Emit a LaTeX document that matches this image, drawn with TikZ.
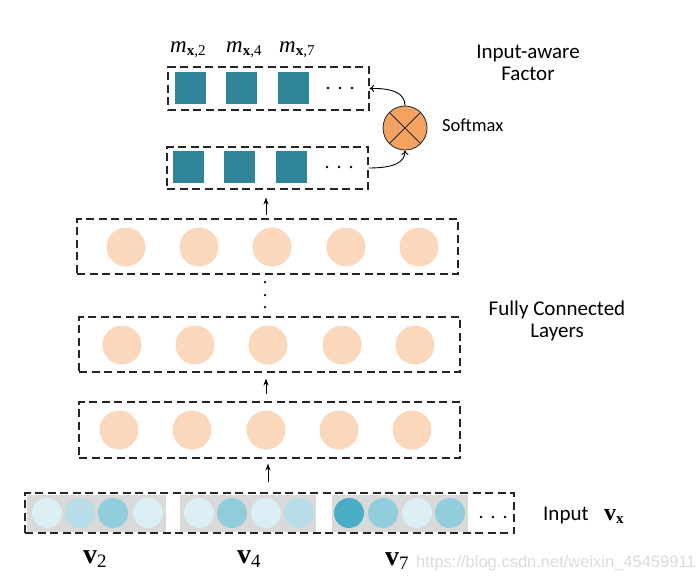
\documentclass[tikz,border=0pt]{standalone}
\usepackage{fontspec}
\setmainfont{Liberation Serif}
\newfontfamily\calfont{Carlito}
\newfontfamily\wmfont{Liberation Sans}
\usetikzlibrary{arrows.meta}
\definecolor{tealsq}{HTML}{2F8498}
\definecolor{peach}{HTML}{FBD8BC}
\definecolor{softor}{HTML}{F4A262}
\definecolor{graybg}{HTML}{D9D9D9}
\definecolor{bvl}{HTML}{DAEEF3}
\definecolor{bl}{HTML}{B7DDE8}
\definecolor{bm}{HTML}{92CDDC}
\definecolor{bd}{HTML}{4BACC6}
\begin{document}
\begin{tikzpicture}[x=1pt,y=-1pt,
  dbox/.style={draw=black!85, line width=1.1pt, dash pattern=on 8pt off 4.5pt, inner sep=0pt},
  sq/.style={fill=tealsq, minimum width=31pt, minimum height=32pt, inner sep=0pt},
  fc/.style={circle, fill=peach, minimum size=39pt, inner sep=0pt},
  inc/.style={circle, minimum size=30pt, inner sep=0pt},
  grp/.style={fill=graybg, minimum height=37pt, inner sep=0pt},
  dotn/.style={circle, fill=black, minimum size=2.8pt, inner sep=0pt},
  up/.style={-{Stealth[length=7pt,width=5pt]}, line width=1pt},
  curv/.style={-{To[length=4.5pt,width=7pt]}, line width=0.9pt},
  lbl/.style={font=\calfont\fontsize{21}{22}\selectfont, align=center, inner sep=0pt},
  mlbl/.style={anchor=base west, inner sep=0pt, font=\fontsize{23}{23}\selectfont},
  vlbl/.style={anchor=base west, inner sep=0pt, font=\fontsize{28}{28}\selectfont}
  ]
\useasboundingbox (0,0) rectangle (696,582);

% ---- top boxes ----
\node[dbox, minimum width=201pt, minimum height=43pt] (boxA) at (268.5,88.5) {};
\node[sq] (a1) at (190.5,88) {};
\node[sq] (a2) at (241.5,88) {};
\node[sq] (a3) at (293.5,88) {};
\node[dotn] (ad1) at (328,88) {};
\node[dotn] (ad2) at (340,88) {};
\node[dotn] (ad3) at (352,88) {};

\node[dbox, minimum width=201pt, minimum height=42pt] (boxB) at (267.5,168) {};
\node[sq] (b1) at (188.5,167) {};
\node[sq] (b2) at (239.5,167) {};
\node[sq] (b3) at (291.5,167) {};
\node[dotn] (bd1) at (327,167) {};
\node[dotn] (bd2) at (339,167) {};
\node[dotn] (bd3) at (351,167) {};

% m labels
\node[mlbl] (m2) at (170,52) {\itshape m\raisebox{-0.3ex}{\upshape\fontsize{15}{15}\selectfont\textbf{x},2}};
\node[mlbl] (m4) at (226,52) {\itshape m\raisebox{-0.3ex}{\upshape\fontsize{15}{15}\selectfont\textbf{x},4}};
\node[mlbl] (m7) at (279,52) {\itshape m\raisebox{-0.3ex}{\upshape\fontsize{15}{15}\selectfont\textbf{x},7}};

% softmax
\node[circle, draw=black!85, line width=0.8pt, fill=softor, minimum size=44pt, inner sep=0pt] (sm) at (405,128) {};
\draw[line width=0.8pt, black!85] (sm.north west) -- (sm.south east);
\draw[line width=0.8pt, black!85] (sm.north east) -- (sm.south west);
\draw[curv] (boxB.east) .. controls (395,168) and (405,162) .. (sm.south);
\draw[curv] (sm.north) .. controls (405,92) and (390,88) .. (boxA.east);

\node[anchor=base west, inner sep=0pt, font=\calfont\fontsize{18.5}{18.5}\selectfont] (smlbl) at (442,131) {Softmax};
\node[lbl] (iaf) at (528,63) {Input-aware\\Factor};

% ---- fully connected layers ----
\node[dbox, minimum width=381pt, minimum height=55pt] (fc1box) at (267.5,246.5) {};
\foreach \x/\n in {126/1,199/2,272/3,346/4,419/5}
  \node[fc] (f1\n) at (\x,247) {};

\node[dotn, minimum size=2.5pt] (vd1) at (265,282) {};
\node[dotn, minimum size=2.5pt] (vd2) at (265,295) {};
\node[dotn, minimum size=2.5pt] (vd3) at (265,307) {};

\node[dbox, minimum width=381pt, minimum height=55pt] (fc2box) at (269.5,344.5) {};
\foreach \x/\n in {122/1,195/2,268/3,342/4,415/5}
  \node[fc] (f2\n) at (\x,345) {};

\node[dbox, minimum width=381pt, minimum height=56pt] (fc3box) at (269.5,430) {};
\foreach \x/\n in {119/1,192/2,266/3,339/4,412/5}
  \node[fc] (f3\n) at (\x,430) {};

\node[lbl] (fcl) at (557,321) {Fully Connected\\Layers};

% ---- input ----
\node[dbox, minimum width=489pt, minimum height=40pt] (inbox) at (269.5,513) {};
\node[grp, minimum width=139pt] (g1) at (96.5,513.5) {};
\node[grp, minimum width=136pt] (g2) at (248,513.5) {};
\node[grp, minimum width=136pt] (g3) at (400,513.5) {};
\node[inc, fill=bvl] (c11) at (47,513) {};
\node[inc, fill=bl]  (c12) at (80,513) {};
\node[inc, fill=bm]  (c13) at (113,513) {};
\node[inc, fill=bvl] (c14) at (148,513) {};
\node[inc, fill=bvl] (c21) at (199,513) {};
\node[inc, fill=bm]  (c22) at (232,513) {};
\node[inc, fill=bvl] (c23) at (266,513) {};
\node[inc, fill=bl]  (c24) at (299,513) {};
\node[inc, fill=bd]  (c31) at (349,513) {};
\node[inc, fill=bm]  (c32) at (383,513) {};
\node[inc, fill=bvl] (c33) at (417,513) {};
\node[inc, fill=bm]  (c34) at (450,513) {};
\node[dotn] (id1) at (481,517) {};
\node[dotn] (id2) at (493,517) {};
\node[dotn] (id3) at (505,517) {};

% arrows
\draw[up, shorten <=3pt, shorten >=8pt] ([xshift=-1.5pt]fc1box.north) -- ([xshift=-1.5pt]boxB.south);
\draw[up, shorten <=7pt, shorten >=6pt] ([xshift=-3.5pt]fc3box.north) -- ([xshift=-3.5pt]fc2box.south);
\draw[up, shorten <=10pt, shorten >=5pt] ([xshift=-1.5pt]inbox.north) -- ([xshift=-1.5pt]fc3box.south);

\node[anchor=base west, inner sep=0pt, font=\calfont\fontsize{21}{21}\selectfont] (inlbl) at (543,520) {Input};
\node[anchor=base west, inner sep=0pt, font=\fontsize{24}{24}\selectfont] (vx) at (604,520) {\textbf{v}\raisebox{-0.3ex}{\fontsize{15}{15}\selectfont\textbf{x}}};

\node[vlbl] (v2) at (83,563) {\textbf{v}\raisebox{-0.35ex}{\fontsize{19}{19}\selectfont 2}};
\node[vlbl] (v4) at (237,563) {\textbf{v}\raisebox{-0.35ex}{\fontsize{19}{19}\selectfont 4}};
\node[vlbl] (v7) at (385,565) {\textbf{v}\raisebox{-0.35ex}{\fontsize{19}{19}\selectfont 7}};

\node[anchor=base west, inner sep=0pt, text=black!14, font=\wmfont\fontsize{16.5}{16.5}\selectfont] (wm) at (416,567) {https://blog.csdn.net/weixin\_45459911};
\end{tikzpicture}
\end{document}
